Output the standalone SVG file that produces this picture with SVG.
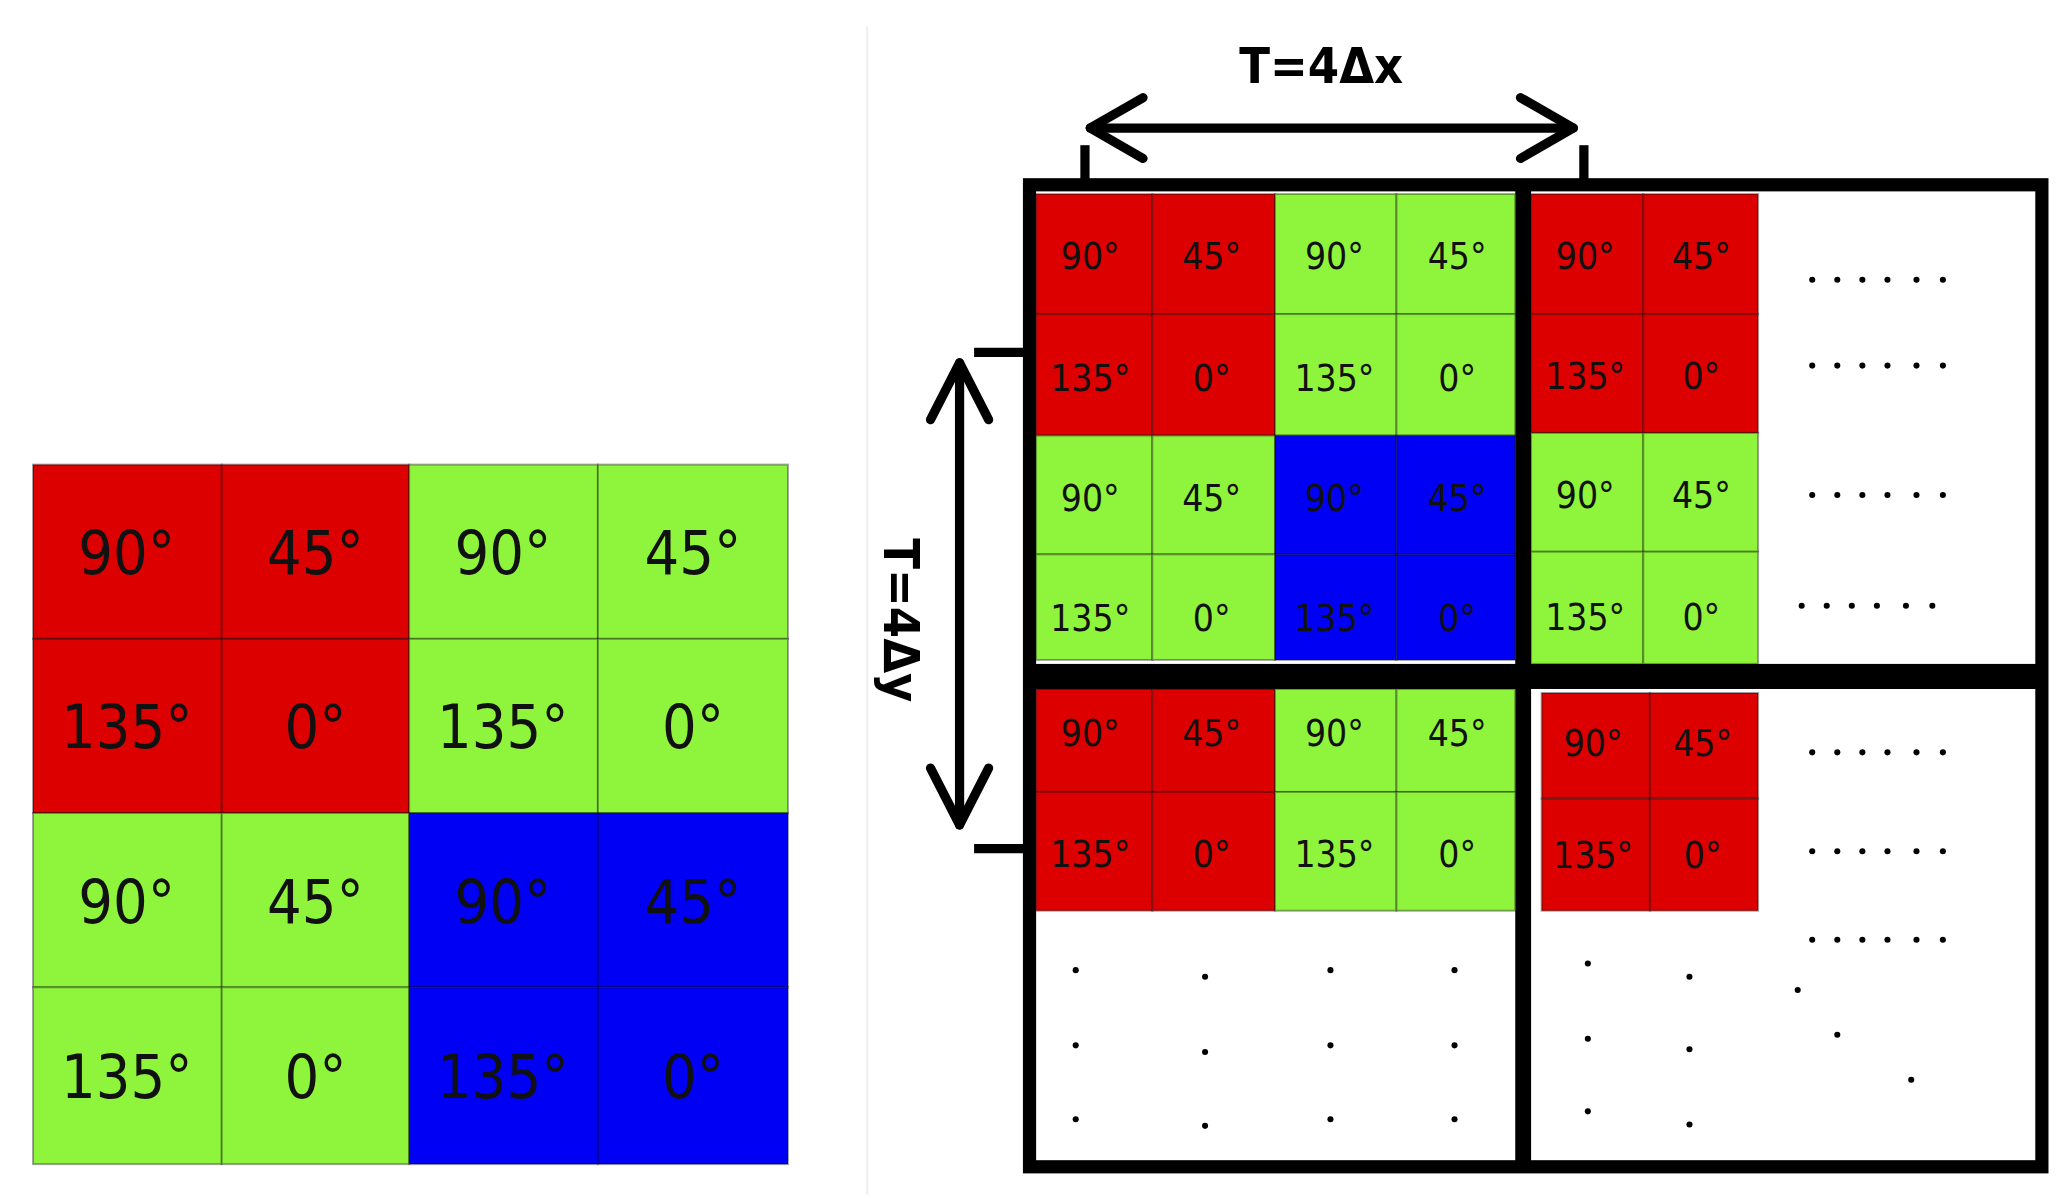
<svg xmlns="http://www.w3.org/2000/svg" width="2059" height="1198" viewBox="0 0 2059 1198">
<style>
.r{fill:#dc0000}.g{fill:#8ff53c}.b{fill:#0000f5}
.c rect{stroke:#000;stroke-opacity:.35;stroke-width:1.5}
.L text{font-family:"DejaVu Sans Condensed","DejaVu Sans",sans-serif;font-size:46px;text-anchor:middle;fill:#111}
.S text{font-family:"DejaVu Sans Condensed","DejaVu Sans",sans-serif;font-size:28px;text-anchor:middle;fill:#111}
.lbl{font-family:"DejaVu Sans Condensed","DejaVu Sans",sans-serif;font-size:38px;font-weight:bold;text-anchor:middle}
.k{stroke:#000;fill:none}
.d circle{fill:#000}
</style>
<rect width="2059" height="1198" fill="#fff"/>
<g transform="scale(1.3199)">
<line x1="657" y1="20" x2="657" y2="905" stroke="#eee" stroke-width="1.5"/>
<g id="left-grid" class="c L">
<rect class="r" x="25" y="352" width="143" height="132"/><rect class="r" x="168" y="352" width="142" height="132"/><rect class="g" x="310" y="352" width="143" height="132"/><rect class="g" x="453" y="352" width="144" height="132"/>
<rect class="r" x="25" y="484" width="143" height="132"/><rect class="r" x="168" y="484" width="142" height="132"/><rect class="g" x="310" y="484" width="143" height="132"/><rect class="g" x="453" y="484" width="144" height="132"/>
<rect class="g" x="25" y="616" width="143" height="132"/><rect class="g" x="168" y="616" width="142" height="132"/><rect class="b" x="310" y="616" width="143" height="132"/><rect class="b" x="453" y="616" width="144" height="132"/>
<rect class="g" x="25" y="748" width="143" height="134"/><rect class="g" x="168" y="748" width="142" height="134"/><rect class="b" x="310" y="748" width="143" height="134"/><rect class="b" x="453" y="748" width="144" height="134"/>
<text x="96" y="435">90°</text><text x="239" y="435">45°</text><text x="381" y="435">90°</text><text x="525" y="435">45°</text>
<text x="96" y="567">135°</text><text x="239" y="567">0°</text><text x="381" y="567">135°</text><text x="525" y="567">0°</text>
<text x="96" y="699">90°</text><text x="239" y="699">45°</text><text x="381" y="699">90°</text><text x="525" y="699">45°</text>
<text x="96" y="832">135°</text><text x="239" y="832">0°</text><text x="381" y="832">135°</text><text x="525" y="832">0°</text>
</g>
<g id="frame">
<rect x="780" y="140" width="767" height="744" class="k" stroke-width="10"/>
<rect x="1148" y="140" width="12" height="744" fill="#000"/>
<rect x="780" y="503" width="767" height="19" fill="#000"/>
</g>
<g id="q-tl" class="c S">
<rect class="r" x="785" y="147" width="88" height="91"/><rect class="r" x="873" y="147" width="93" height="91"/><rect class="g" x="966" y="147" width="92" height="91"/><rect class="g" x="1058" y="147" width="90" height="91"/>
<rect class="r" x="785" y="238" width="88" height="92"/><rect class="r" x="873" y="238" width="93" height="92"/><rect class="g" x="966" y="238" width="92" height="92"/><rect class="g" x="1058" y="238" width="90" height="92"/>
<rect class="g" x="785" y="330" width="88" height="90"/><rect class="g" x="873" y="330" width="93" height="90"/><rect class="b" x="966" y="330" width="92" height="90"/><rect class="b" x="1058" y="330" width="90" height="90"/>
<rect class="g" x="785" y="420" width="88" height="80"/><rect class="g" x="873" y="420" width="93" height="80"/><rect class="b" x="966" y="420" width="92" height="80"/><rect class="b" x="1058" y="420" width="90" height="80"/>
<text x="826" y="204">90°</text><text x="918" y="204">45°</text><text x="1011" y="204">90°</text><text x="1104" y="204">45°</text>
<text x="826" y="296">135°</text><text x="918" y="296">0°</text><text x="1011" y="296">135°</text><text x="1104" y="296">0°</text>
<text x="826" y="387">90°</text><text x="918" y="387">45°</text><text x="1011" y="387">90°</text><text x="1104" y="387">45°</text>
<text x="826" y="478">135°</text><text x="918" y="478">0°</text><text x="1011" y="478">135°</text><text x="1104" y="478">0°</text>
</g>
<g id="q-tr" class="c S">
<rect class="r" x="1160" y="147" width="85" height="91"/><rect class="r" x="1245" y="147" width="87" height="91"/>
<rect class="r" x="1160" y="238" width="85" height="90"/><rect class="r" x="1245" y="238" width="87" height="90"/>
<rect class="g" x="1160" y="328" width="85" height="90"/><rect class="g" x="1245" y="328" width="87" height="90"/>
<rect class="g" x="1160" y="418" width="85" height="85"/><rect class="g" x="1245" y="418" width="87" height="85"/>
<text x="1201" y="204">90°</text><text x="1289" y="204">45°</text>
<text x="1201" y="295">135°</text><text x="1289" y="295">0°</text>
<text x="1201" y="385">90°</text><text x="1289" y="385">45°</text>
<text x="1201" y="477">135°</text><text x="1289" y="477">0°</text>
</g>
<g id="q-bl" class="c S">
<rect class="r" x="785" y="522" width="88" height="78"/><rect class="r" x="873" y="522" width="93" height="78"/><rect class="g" x="966" y="522" width="92" height="78"/><rect class="g" x="1058" y="522" width="90" height="78"/>
<rect class="r" x="785" y="600" width="88" height="90"/><rect class="r" x="873" y="600" width="93" height="90"/><rect class="g" x="966" y="600" width="92" height="90"/><rect class="g" x="1058" y="600" width="90" height="90"/>
<text x="826" y="565">90°</text><text x="918" y="565">45°</text><text x="1011" y="565">90°</text><text x="1104" y="565">45°</text>
<text x="826" y="657">135°</text><text x="918" y="657">0°</text><text x="1011" y="657">135°</text><text x="1104" y="657">0°</text>
</g>
<g id="q-br" class="c S">
<rect class="r" x="1168" y="525" width="82" height="80"/><rect class="r" x="1250" y="525" width="82" height="80"/>
<rect class="r" x="1168" y="605" width="82" height="85"/><rect class="r" x="1250" y="605" width="82" height="85"/>
<text x="1207" y="573">90°</text><text x="1290" y="573">45°</text>
<text x="1207" y="658">135°</text><text x="1290" y="658">0°</text>
</g>
<g id="dots" class="d">
<g transform="translate(0,212)"><circle cx="1373" cy="0" r="2.3"/><circle cx="1392" cy="0" r="2.3"/><circle cx="1411" cy="0" r="2.3"/><circle cx="1430" cy="0" r="2.3"/><circle cx="1452" cy="0" r="2.3"/><circle cx="1472" cy="0" r="2.3"/></g>
<g transform="translate(0,277)"><circle cx="1373" cy="0" r="2.3"/><circle cx="1392" cy="0" r="2.3"/><circle cx="1411" cy="0" r="2.3"/><circle cx="1430" cy="0" r="2.3"/><circle cx="1452" cy="0" r="2.3"/><circle cx="1472" cy="0" r="2.3"/></g>
<g transform="translate(0,375)"><circle cx="1373" cy="0" r="2.3"/><circle cx="1392" cy="0" r="2.3"/><circle cx="1411" cy="0" r="2.3"/><circle cx="1430" cy="0" r="2.3"/><circle cx="1452" cy="0" r="2.3"/><circle cx="1472" cy="0" r="2.3"/></g>
<g transform="translate(-8,459)"><circle cx="1373" cy="0" r="2.3"/><circle cx="1392" cy="0" r="2.3"/><circle cx="1411" cy="0" r="2.3"/><circle cx="1430" cy="0" r="2.3"/><circle cx="1452" cy="0" r="2.3"/><circle cx="1472" cy="0" r="2.3"/></g>
<g transform="translate(0,570)"><circle cx="1373" cy="0" r="2.3"/><circle cx="1392" cy="0" r="2.3"/><circle cx="1411" cy="0" r="2.3"/><circle cx="1430" cy="0" r="2.3"/><circle cx="1452" cy="0" r="2.3"/><circle cx="1472" cy="0" r="2.3"/></g>
<g transform="translate(0,645)"><circle cx="1373" cy="0" r="2.3"/><circle cx="1392" cy="0" r="2.3"/><circle cx="1411" cy="0" r="2.3"/><circle cx="1430" cy="0" r="2.3"/><circle cx="1452" cy="0" r="2.3"/><circle cx="1472" cy="0" r="2.3"/></g>
<g transform="translate(0,712)"><circle cx="1373" cy="0" r="2.3"/><circle cx="1392" cy="0" r="2.3"/><circle cx="1411" cy="0" r="2.3"/><circle cx="1430" cy="0" r="2.3"/><circle cx="1452" cy="0" r="2.3"/><circle cx="1472" cy="0" r="2.3"/></g>
<circle cx="815" cy="735" r="2.3"/><circle cx="913" cy="740" r="2.3"/><circle cx="1008" cy="735" r="2.3"/><circle cx="1102" cy="735" r="2.3"/>
<circle cx="815" cy="792" r="2.3"/><circle cx="913" cy="797" r="2.3"/><circle cx="1008" cy="792" r="2.3"/><circle cx="1102" cy="792" r="2.3"/>
<circle cx="815" cy="848" r="2.3"/><circle cx="913" cy="853" r="2.3"/><circle cx="1008" cy="848" r="2.3"/><circle cx="1102" cy="848" r="2.3"/>
<circle cx="1203" cy="730" r="2.3"/><circle cx="1280" cy="740" r="2.3"/>
<circle cx="1203" cy="787" r="2.3"/><circle cx="1280" cy="795" r="2.3"/>
<circle cx="1203" cy="842" r="2.3"/><circle cx="1280" cy="852" r="2.3"/>
<circle cx="1362" cy="750" r="2.3"/><circle cx="1392" cy="784" r="2.3"/><circle cx="1448" cy="818" r="2.3"/>
</g>
<g id="connectors" class="k" stroke-width="7" stroke-linecap="round" stroke-linejoin="round">
<line x1="826" y1="97" x2="1192" y2="97"/>
<polyline points="866,74 826,97 866,120"/>
<polyline points="1152,74 1192,97 1152,120"/>
<line x1="822" y1="110" x2="822" y2="137" stroke-linecap="butt"/>
<line x1="1200" y1="110" x2="1200" y2="137" stroke-linecap="butt"/>
<line x1="727" y1="275" x2="727" y2="625"/>
<polyline points="705,318 727,275 749,318"/>
<polyline points="705,582 727,625 749,582"/>
<line x1="738" y1="267" x2="776" y2="267" stroke-linecap="butt"/>
<line x1="738" y1="643" x2="776" y2="643" stroke-linecap="butt"/>
</g>
<text class="lbl" x="1001" y="63">T=4Δx</text>
<text class="lbl" transform="translate(670,470) rotate(90)" x="0" y="0">T=4Δy</text>
</g>
</svg>
